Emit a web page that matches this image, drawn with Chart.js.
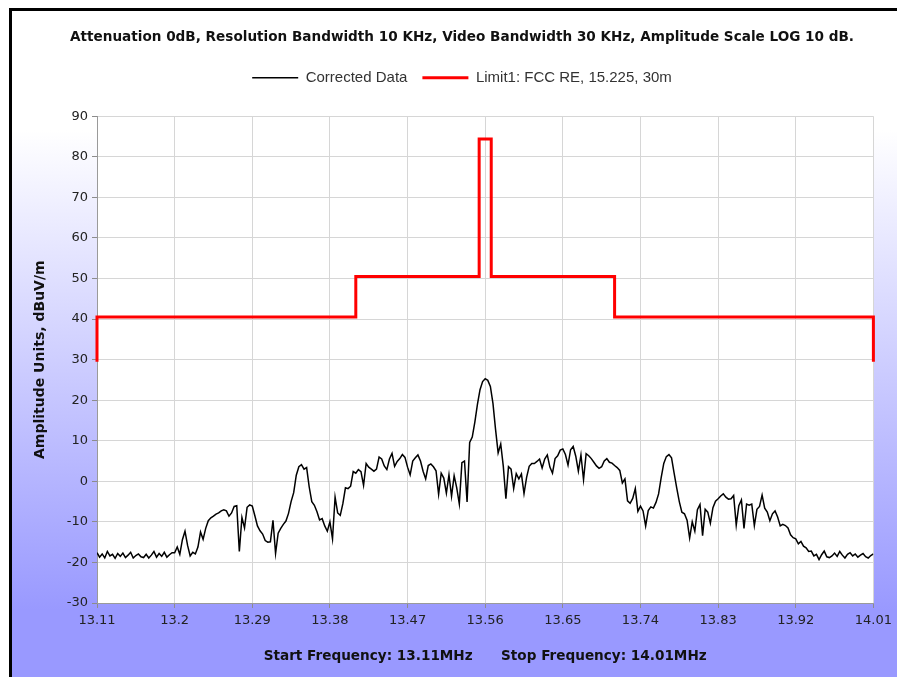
<!DOCTYPE html>
<html>
<head>
<meta charset="utf-8">
<script src="https://cdn.jsdelivr.net/npm/chart.js@4.4.0/dist/chart.umd.min.js"></script>
<style>
  html, body { margin: 0; padding: 0; background: #fff; }
  canvas { display: block; }
</style>
</head>
<body>
<canvas id="spectrumChart" width="897" height="677"></canvas>
<script>
// sweep: 301 points from 13.11 to 14.01 MHz
const sweepStart = 13.11;
const sweepStep = 0.003;
const correctedLevels = [
  -17.6,-18.7,-17.9,-18.9,-17.3,-18.4,-18.0,-19.0,-17.8,-18.5,
  -17.7,-18.8,-18.2,-17.5,-18.9,-18.3,-17.9,-18.6,-18.8,-18.0,
  -18.9,-18.2,-17.3,-18.7,-17.8,-18.5,-17.5,-18.7,-18.1,-17.6,
  -17.6,-16.2,-18.0,-14.4,-12.3,-15.8,-18.4,-17.5,-17.9,-16.2,
  -12.5,-14.3,-11.6,-9.7,-9.0,-8.6,-8.1,-7.8,-7.3,-7.0,
  -7.3,-8.6,-7.8,-6.2,-6.0,-17.3,-8.9,-11.5,-6.4,-5.8,
  -6.1,-8.5,-11.0,-12.2,-13.0,-14.6,-15.0,-14.9,-9.6,-17.8,
  -12.8,-11.6,-10.6,-9.8,-7.9,-5.0,-2.8,1.5,3.6,4.1,
  3.0,3.4,-1.4,-5.0,-5.9,-7.5,-9.5,-9.2,-11.0,-12.3,
  -10.0,-14.2,-3.9,-7.8,-8.4,-5.5,-1.6,-1.8,-1.2,2.4,
  2.0,2.9,2.4,-1.0,4.4,3.5,3.0,2.5,3.0,6.0,
  5.5,3.8,2.9,5.5,6.9,3.7,4.9,5.6,6.6,5.9,
  3.5,1.6,5.0,5.8,6.5,5.0,2.5,0.6,3.9,4.3,
  3.6,2.6,-3.2,2.0,0.8,-2.9,1.6,-3.7,1.4,-1.6,
  -5.6,4.6,5.0,-5.1,9.6,10.9,14.6,19.0,22.6,24.6,
  25.3,24.9,23.4,19.2,12.8,7.0,9.2,3.7,-4.3,3.6,
  3.0,-1.8,1.9,0.6,1.8,-3.0,1.0,3.7,4.4,4.4,
  4.9,5.5,3.3,5.5,6.5,3.5,2.0,5.6,6.3,7.7,
  8.0,6.6,4.0,7.8,8.6,6.2,2.5,6.5,0.4,6.8,
  6.3,5.6,4.7,3.8,3.2,3.6,5.0,5.6,4.7,4.5,
  3.9,3.4,2.7,-0.4,0.6,-4.8,-5.4,-4.2,-1.8,-7.4,
  -6.1,-7.3,-11.0,-7.2,-6.3,-6.6,-5.2,-3.1,0.9,4.4,
  6.1,6.6,5.8,2.0,-1.6,-5.0,-7.6,-8.0,-9.6,-14.0,
  -10.0,-12.3,-7.0,-5.7,-13.4,-6.9,-7.6,-10.3,-6.5,-4.9,
  -4.3,-3.6,-3.1,-3.9,-4.4,-4.3,-3.5,-10.8,-6.0,-4.6,
  -11.6,-5.6,-5.9,-5.6,-10.9,-6.9,-6.2,-3.4,-6.6,-7.6,
  -9.7,-8.0,-7.3,-8.8,-11.0,-10.6,-10.9,-11.5,-13.2,-13.9,
  -14.2,-15.4,-14.8,-16.0,-16.4,-17.3,-17.2,-18.4,-18.0,-19.3,
  -18.1,-17.2,-18.6,-18.8,-18.4,-17.7,-18.5,-17.3,-18.2,-18.9,
  -18.0,-17.6,-18.4,-17.9,-18.7,-18.2,-17.8,-18.6,-18.9,-18.3,-17.9
];

// FCC 15.225 limit at 30m (step edges repeated for the vertical parts)
const limitFreqs  = [13.11, 13.11, 13.41, 13.41, 13.553, 13.553, 13.567, 13.567, 13.71, 13.71, 14.01, 14.01];
const limitLevels = [29.5, 40.5, 40.5, 50.5, 50.5, 84.4, 84.4, 50.5, 50.5, 40.5, 40.5, 29.5];

const freqTicks = [13.11, 13.2, 13.29, 13.38, 13.47, 13.56, 13.65, 13.74, 13.83, 13.92, 14.01];
const seriesNames = ['Corrected Data', 'Limit1: FCC RE, 15.225, 30m'];
const seriesColors = ['#000000', '#ff0000'];
const seriesWidths = [1.5, 3];

const chartTitle = 'Attenuation 0dB, Resolution Bandwidth 10 KHz, Video Bandwidth 30 KHz, Amplitude Scale LOG 10 dB.';
const xTitle = 'Start Frequency: 13.11MHz      Stop Frequency: 14.01MHz';
const yTitle = 'Amplitude Units, dBuV/m';

// gradient background, white plot area and the black frame
const backdrop = {
  id: 'backdrop',
  beforeDraw(chart) {
    const {ctx, width, height, chartArea} = chart;
    ctx.save();
    ctx.fillStyle = '#ffffff';
    ctx.fillRect(0, 0, width, height);
    const grad = ctx.createLinearGradient(0, 130, 0, 610);
    grad.addColorStop(0, '#ffffff');
    grad.addColorStop(1, '#9999ff');
    ctx.fillStyle = grad;
    ctx.fillRect(12, 11, width - 12, height - 11);
    ctx.fillStyle = '#ffffff';
    ctx.fillRect(chartArea.left, chartArea.top, chartArea.width, chartArea.height);
    ctx.fillStyle = '#000000';
    ctx.fillRect(9, 8, width - 9, 3);
    ctx.fillRect(9, 8, 3, height - 8);
    ctx.restore();
  }
};

// extra room below the legend
const legendGap = {
  id: 'legendGap',
  beforeLayout(chart) {
    const legend = chart.legend;
    if (legend && !legend._gapAdded) {
      const fit = legend.fit;
      legend.fit = function () { fit.call(this); this.height += 21; };
      legend._gapAdded = true;
    }
  }
};

const datasets = [
  {
    label: seriesNames[0],
    data: correctedLevels.map((v, i) => ({x: sweepStart + i * sweepStep, y: v})),
    borderColor: seriesColors[0],
    borderWidth: seriesWidths[0],
    pointRadius: 0,
    tension: 0
  },
  {
    label: seriesNames[1],
    data: limitFreqs.map((f, i) => ({x: f, y: limitLevels[i]})),
    borderColor: seriesColors[1],
    borderWidth: seriesWidths[1],
    pointRadius: 0,
    tension: 0,
    clip: false
  }
];

const config = {
  type: 'line',
  data: { datasets: datasets },
  options: {
    responsive: false,
    animation: false,
    layout: { padding: { left: 49, right: 22, top: 0, bottom: 0 } },
    plugins: {
      title: {
        display: true,
        text: chartTitle,
        color: '#111111',
        font: { family: 'DejaVu Sans', weight: 'bold', size: 13.6 },
        padding: { top: 29, bottom: 10 }
      },
      legend: {
        position: 'top',
        labels: {
          usePointStyle: true,
          pointStyleWidth: 46,
          padding: 15,
          color: '#333333',
          font: { family: 'Liberation Sans', size: 15 },
          generateLabels: chart => chart.data.datasets.map((ds, i) => ({
            text: ds.label,
            strokeStyle: ds.borderColor,
            fillStyle: ds.borderColor,
            lineWidth: ds.borderWidth,
            pointStyle: 'line',
            hidden: false,
            datasetIndex: i,
            fontColor: '#333333'
          }))
        }
      },
      tooltip: { enabled: false }
    },
    scales: {
      x: {
        type: 'linear',
        min: 13.11,
        max: 14.01,
        afterBuildTicks: scale => { scale.ticks = freqTicks.map(v => ({value: v})); },
        afterFit: scale => { scale.height = 74; },
        ticks: {
          autoSkip: false,
          maxRotation: 0,
          padding: 5,
          color: '#222222',
          font: { family: 'DejaVu Sans', size: 13 },
          callback: v => String(Number(v.toFixed(2)))
        },
        grid: { color: '#d6d6d6', tickColor: '#8c8c8c', tickLength: 5 },
        border: { color: '#9a9a9a' },
        title: {
          display: true,
          text: xTitle,
          color: '#111111',
          font: { family: 'DejaVu Sans', weight: 'bold', size: 13.6 },
          padding: { top: 0, bottom: 12 }
        }
      },
      y: {
        min: -30,
        max: 90,
        afterFit: scale => { scale.width = 48; },
        ticks: {
          stepSize: 10,
          padding: 4,
          color: '#222222',
          font: { family: 'DejaVu Sans', size: 13 }
        },
        grid: { color: '#d6d6d6', tickColor: '#8c8c8c', tickLength: 5 },
        border: { color: '#9a9a9a' },
        title: {
          display: true,
          text: yTitle,
          color: '#111111',
          font: { family: 'DejaVu Sans', weight: 'bold', size: 14 },
          padding: { top: -17, bottom: 0 }
        }
      }
    }
  },
  plugins: [backdrop, legendGap]
};

const canvas = document.getElementById('spectrumChart');
const spectrumChart = new Chart(canvas, config);
</script>
</body>
</html>
